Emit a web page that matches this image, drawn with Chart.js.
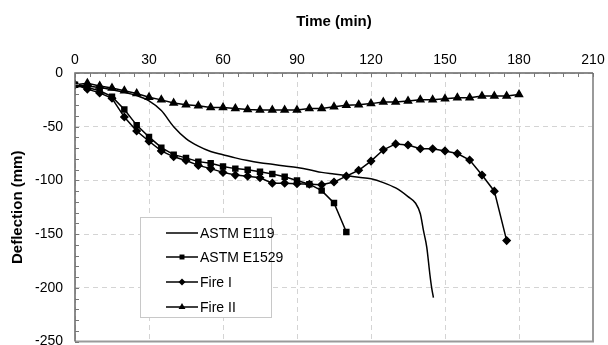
<!DOCTYPE html>
<html>
<head>
<meta charset="utf-8">
<script src="https://cdn.jsdelivr.net/npm/chart.js@4.4.0/dist/chart.umd.min.js"></script>
<style>
html, body { margin: 0; padding: 0; background: #fff; overflow: hidden; }
#wrap { width: 608px; height: 362px; }
</style>
</head>
<body>
<div id="wrap"><canvas id="grafico" width="608" height="362"></canvas></div>
<script>
// ------------------ DADOS ------------------
const tempo = [0, 5, 10, 15, 20, 25, 30, 35, 40, 45, 50, 55, 60, 65, 70, 75, 80, 85, 90,
               95, 100, 105, 110, 115, 120, 125, 130, 135, 140, 145, 150, 155, 160, 165, 170, 175, 180];

const fireII = [-11, -9.5, -12, -14, -16.5, -19, -22.5, -25, -28, -29.5, -30.5, -32, -32, -33, -34,
                -34.5, -34.5, -34.5, -34.5, -33, -33, -31.5, -30, -29.5, -28.5, -27, -27, -26, -25,
                -25, -24, -23, -23, -21.5, -21.5, -21.5, -20];

const fireI = [-11, -15, -18.5, -23.5, -41, -54, -63.5, -72.5, -78, -81.5, -86, -89, -92.5, -95, -96,
               -97.5, -102.5, -102.5, -103, -103.5, -104, -101.5, -96, -90.5, -82, -71.5, -66, -67,
               -70.5, -70.5, -72.5, -75, -81, -95, -110, -156];

const e1529 = [-11, -13.5, -16.5, -22, -34, -48.5, -59.5, -69.5, -76, -79, -82.5, -84, -87, -89, -90,
               -92, -94, -96.5, -100, -103.5, -109.5, -121, -148];

const e119Tempo = [0, 5, 10, 15, 20, 25, 30, 35, 40, 45, 50, 55, 60, 65, 70, 75, 80, 85, 90, 95, 100,
                   105, 110, 115, 120, 125, 130, 135, 138, 140, 141.3, 142.6, 143.9, 144.6, 145.3];
const e119 = [-11, -12, -13.5, -15.5, -18, -21, -26, -35, -50, -61, -68, -73, -76, -79, -81.5, -83.5,
              -85, -86.5, -88, -90, -92.5, -94, -95.5, -97, -98.5, -102, -107, -115, -121, -131, -147,
              -162, -188, -200, -209];

const xTicks = [0, 30, 60, 90, 120, 150, 180, 210];
const yTicks = [0, -50, -100, -150, -200, -250];

const fonte = "'Liberation Sans', Arial, sans-serif";

const pontos = (xs, ys) => ys.map((v, i) => ({ x: xs[i], y: v }));

// ------------------ PLUGIN: moldura, marcas e legenda ------------------
const extras = {
    id: "extras",
    afterDraw(chart) {
        const ctx = chart.ctx;
        const a = chart.chartArea;
        const sx = chart.scales.x;
        const sy = chart.scales.y;
        ctx.save();

        // moldura
        ctx.lineWidth = 2;
        ctx.strokeStyle = "#9a9a9a";
        ctx.beginPath();
        ctx.moveTo(a.right, a.top); ctx.lineTo(a.right, a.bottom); ctx.lineTo(a.left, a.bottom);
        ctx.stroke();
        ctx.strokeStyle = "#666";
        ctx.lineWidth = 1.5;
        ctx.beginPath();
        ctx.moveTo(a.left, a.bottom); ctx.lineTo(a.left, a.top); ctx.lineTo(a.right, a.top);
        ctx.stroke();

        // marcas menores
        ctx.lineWidth = 1;
        ctx.strokeStyle = "#777";
        ctx.beginPath();
        for (let t = 0; t <= 210; t += 6) {
            const px = Math.round(sx.getPixelForValue(t)) + 0.5;
            ctx.moveTo(px, a.top); ctx.lineTo(px, a.top + 4);
        }
        for (let d = 0; d >= -250; d -= 10) {
            const py = Math.round(sy.getPixelForValue(d)) + 0.5;
            ctx.moveTo(a.left, py); ctx.lineTo(a.left + 4, py);
        }
        ctx.stroke();

        // legenda
        const lx = 140, ly = 217, lw = 131, lh = 100;
        ctx.fillStyle = "#fff";
        ctx.fillRect(lx, ly, lw, lh);
        ctx.strokeStyle = "#c8c8c8";
        ctx.lineWidth = 1;
        ctx.strokeRect(lx + 0.5, ly + 0.5, lw, lh);
        const rows = [233, 257, 282, 307];
        ctx.font = "14px " + fonte;
        ctx.textBaseline = "middle";
        chart.data.datasets.forEach((ds, i) => {
            const y = rows[i];
            ctx.strokeStyle = "#000";
            ctx.lineWidth = 1.5;
            ctx.beginPath();
            ctx.moveTo(166, y); ctx.lineTo(198, y);
            ctx.stroke();
            if (ds.pointRadius > 0) {
                ctx.fillStyle = "#000";
                Chart.helpers.drawPoint(ctx, { pointStyle: ds.pointStyle, radius: ds.pointRadius, rotation: 0, borderWidth: 0 }, 182, y);
            }
            ctx.fillStyle = "#000";
            ctx.fillText(ds.label, 200, y + 1);
        });
        ctx.restore();
    }
};

// ------------------ GRÁFICO ------------------
const ctx = document.getElementById("grafico").getContext("2d");
new Chart(ctx, {
    type: "line",
    data: {
        datasets: [
            {
                label: "ASTM E119",
                data: pontos(e119Tempo, e119),
                borderColor: "#000",
                borderWidth: 1.5,
                pointRadius: 0,
                cubicInterpolationMode: "monotone"
            },
            {
                label: "ASTM E1529",
                data: pontos(tempo, e1529),
                borderColor: "#000",
                backgroundColor: "#000",
                borderWidth: 1.5,
                pointStyle: "rect",
                pointRadius: 3.5,
                tension: 0
            },
            {
                label: "Fire I",
                data: pontos(tempo, fireI),
                borderColor: "#000",
                backgroundColor: "#000",
                borderWidth: 1.5,
                pointStyle: "rectRot",
                pointRadius: 3.5,
                tension: 0
            },
            {
                label: "Fire II",
                data: pontos(tempo, fireII),
                borderColor: "#000",
                backgroundColor: "#000",
                borderWidth: 1.5,
                pointStyle: "triangle",
                pointRadius: 4,
                tension: 0
            }
        ]
    },
    options: {
        responsive: false,
        animation: false,
        layout: { padding: { left: 0, right: 15, top: 0, bottom: 0 } },
        plugins: {
            legend: { display: false },
            tooltip: { enabled: false }
        },
        scales: {
            x: {
                type: "linear",
                position: "top",
                min: 0,
                max: 210,
                afterBuildTicks: s => { s.ticks = xTicks.map(v => ({ value: v })); },
                afterFit: s => { s.height = 73; s.paddingRight = 15; },
                ticks: { color: "#000", font: { family: fonte, size: 14 }, padding: 4, maxRotation: 0 },
                grid: { color: "#d4d4d4", drawTicks: false },
                border: { display: false, dash: [5, 4] },
                title: {
                    display: true,
                    text: "Time (min)",
                    color: "#000",
                    font: { family: fonte, size: 15, weight: "bold" },
                    padding: { top: 13, bottom: 0 }
                }
            },
            y: {
                min: -250,
                max: 0,
                afterBuildTicks: s => { s.ticks = yTicks.map(v => ({ value: v })); },
                afterFit: s => { s.width = 75; },
                ticks: { color: "#000", font: { family: fonte, size: 14 }, padding: 12 },
                grid: { color: "#d4d4d4", drawTicks: false },
                border: { display: false, dash: [5, 4] },
                title: {
                    display: true,
                    text: "Deflection (mm)",
                    color: "#000",
                    font: { family: fonte, size: 15, weight: "bold" },
                    padding: { top: 9, bottom: 0 }
                }
            }
        }
    },
    plugins: [extras]
});
</script>
</body>
</html>
